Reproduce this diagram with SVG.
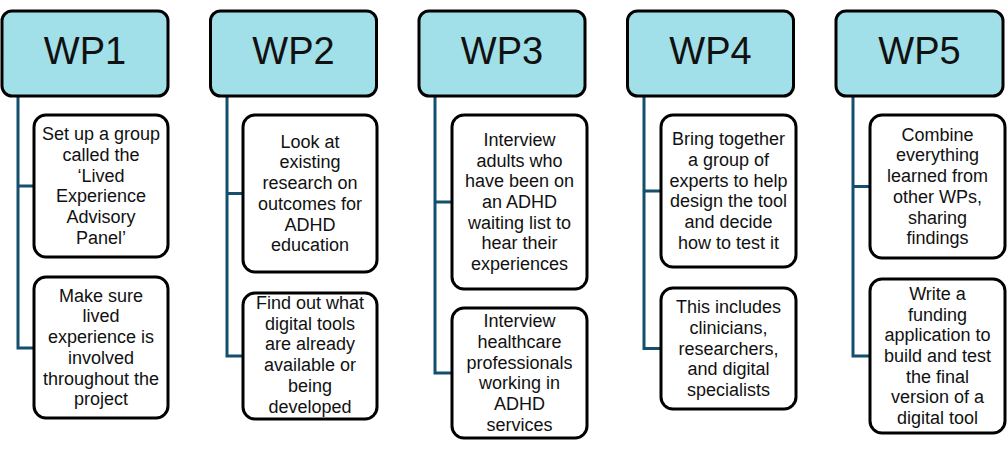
<svg xmlns="http://www.w3.org/2000/svg" width="1008" height="451" viewBox="0 0 1008 451">
<style>
.hdr{fill:#A1E0E8;stroke:#000;stroke-width:3}
.box{fill:#fff;stroke:#000;stroke-width:3}
.ht{font-family:"Liberation Sans",Arial,sans-serif;font-size:38px;fill:#111;text-anchor:middle}
.t{font-family:"Liberation Sans",Arial,sans-serif;font-size:18px;fill:#111;text-anchor:middle}
.c{fill:none;stroke:#154F6E;stroke-width:3}
</style>
<rect width="1008" height="451" fill="#fff"/>
<g id="connectors">
<path class="c" d="M18 96 V348 H34 M18 186 H34"/>
<path class="c" d="M227 96 V356 H243 M227 193.5 H243"/>
<path class="c" d="M435 96 V373 H452 M435 202 H452"/>
<path class="c" d="M644 96 V348.5 H661 M644 191 H661"/>
<path class="c" d="M853 96 V356 H870 M853 186.5 H870"/>
</g>
<g id="wp1">
<rect class="hdr" x="2" y="11" width="166" height="85" rx="10"/>
<text class="ht" x="85" y="64">WP1</text>
</g>
<g id="wp1a">
<rect class="box" x="34" y="115" width="134" height="142" rx="12"/>
<text class="t" x="101" y="140.25"><tspan x="101">Set up a group</tspan><tspan x="101" dy="20.7">called the</tspan><tspan x="101" dy="20.7">‘Lived</tspan><tspan x="101" dy="20.7">Experience</tspan><tspan x="101" dy="20.7">Advisory</tspan><tspan x="101" dy="20.7">Panel’</tspan></text>
</g>
<g id="wp1b">
<rect class="box" x="34" y="277" width="134" height="141" rx="12"/>
<text class="t" x="101" y="301.75"><tspan x="101">Make sure</tspan><tspan x="101" dy="20.7">lived</tspan><tspan x="101" dy="20.7">experience is</tspan><tspan x="101" dy="20.7">involved</tspan><tspan x="101" dy="20.7">throughout the</tspan><tspan x="101" dy="20.7">project</tspan></text>
</g>
<g id="wp2">
<rect class="hdr" x="210.5" y="11" width="166" height="85" rx="10"/>
<text class="ht" x="293.5" y="64">WP2</text>
</g>
<g id="wp2a">
<rect class="box" x="243" y="115" width="134" height="157" rx="12"/>
<text class="t" x="310" y="147.75"><tspan x="310">Look at</tspan><tspan x="310" dy="20.7">existing</tspan><tspan x="310" dy="20.7">research on</tspan><tspan x="310" dy="20.7">outcomes for</tspan><tspan x="310" dy="20.7">ADHD</tspan><tspan x="310" dy="20.7">education</tspan></text>
</g>
<g id="wp2b">
<rect class="box" x="243" y="293" width="134" height="126" rx="12"/>
<text class="t" x="310" y="309"><tspan x="310">Find out what</tspan><tspan x="310" dy="20.7">digital tools</tspan><tspan x="310" dy="20.7">are already</tspan><tspan x="310" dy="20.7">available or</tspan><tspan x="310" dy="20.7">being</tspan><tspan x="310" dy="20.7">developed</tspan></text>
</g>
<g id="wp3">
<rect class="hdr" x="419" y="11" width="166" height="85" rx="10"/>
<text class="ht" x="502" y="64">WP3</text>
</g>
<g id="wp3a">
<rect class="box" x="452" y="115" width="135" height="174" rx="12"/>
<text class="t" x="519.5" y="145.9"><tspan x="519.5">Interview</tspan><tspan x="519.5" dy="20.7">adults who</tspan><tspan x="519.5" dy="20.7">have been on</tspan><tspan x="519.5" dy="20.7">an ADHD</tspan><tspan x="519.5" dy="20.7">waiting list to</tspan><tspan x="519.5" dy="20.7">hear their</tspan><tspan x="519.5" dy="20.7">experiences</tspan></text>
</g>
<g id="wp3b">
<rect class="box" x="452" y="308" width="135" height="130" rx="12"/>
<text class="t" x="519.5" y="327.25"><tspan x="519.5">Interview</tspan><tspan x="519.5" dy="20.7">healthcare</tspan><tspan x="519.5" dy="20.7">professionals</tspan><tspan x="519.5" dy="20.7">working in</tspan><tspan x="519.5" dy="20.7">ADHD</tspan><tspan x="519.5" dy="20.7">services</tspan></text>
</g>
<g id="wp4">
<rect class="hdr" x="627.5" y="11" width="166" height="85" rx="10"/>
<text class="ht" x="710.5" y="64">WP4</text>
</g>
<g id="wp4a">
<rect class="box" x="661" y="115" width="135" height="152" rx="12"/>
<text class="t" x="728.5" y="145.25"><tspan x="728.5">Bring together</tspan><tspan x="728.5" dy="20.7">a group of</tspan><tspan x="728.5" dy="20.7">experts to help</tspan><tspan x="728.5" dy="20.7">design the tool</tspan><tspan x="728.5" dy="20.7">and decide</tspan><tspan x="728.5" dy="20.7">how to test it</tspan></text>
</g>
<g id="wp4b">
<rect class="box" x="661" y="288" width="135" height="121" rx="12"/>
<text class="t" x="728.5" y="313.1"><tspan x="728.5">This includes</tspan><tspan x="728.5" dy="20.7">clinicians,</tspan><tspan x="728.5" dy="20.7">researchers,</tspan><tspan x="728.5" dy="20.7">and digital</tspan><tspan x="728.5" dy="20.7">specialists</tspan></text>
</g>
<g id="wp5">
<rect class="hdr" x="836" y="11" width="167" height="85" rx="10"/>
<text class="ht" x="919.5" y="64">WP5</text>
</g>
<g id="wp5a">
<rect class="box" x="870" y="115" width="135" height="143" rx="12"/>
<text class="t" x="937.5" y="140.75"><tspan x="937.5">Combine</tspan><tspan x="937.5" dy="20.7">everything</tspan><tspan x="937.5" dy="20.7">learned from</tspan><tspan x="937.5" dy="20.7">other WPs,</tspan><tspan x="937.5" dy="20.7">sharing</tspan><tspan x="937.5" dy="20.7">findings</tspan></text>
</g>
<g id="wp5b">
<rect class="box" x="870" y="279" width="135" height="154" rx="12"/>
<text class="t" x="937.5" y="299.9"><tspan x="937.5">Write a</tspan><tspan x="937.5" dy="20.7">funding</tspan><tspan x="937.5" dy="20.7">application to</tspan><tspan x="937.5" dy="20.7">build and test</tspan><tspan x="937.5" dy="20.7">the final</tspan><tspan x="937.5" dy="20.7">version of a</tspan><tspan x="937.5" dy="20.7">digital tool</tspan></text>
</g>
</svg>
